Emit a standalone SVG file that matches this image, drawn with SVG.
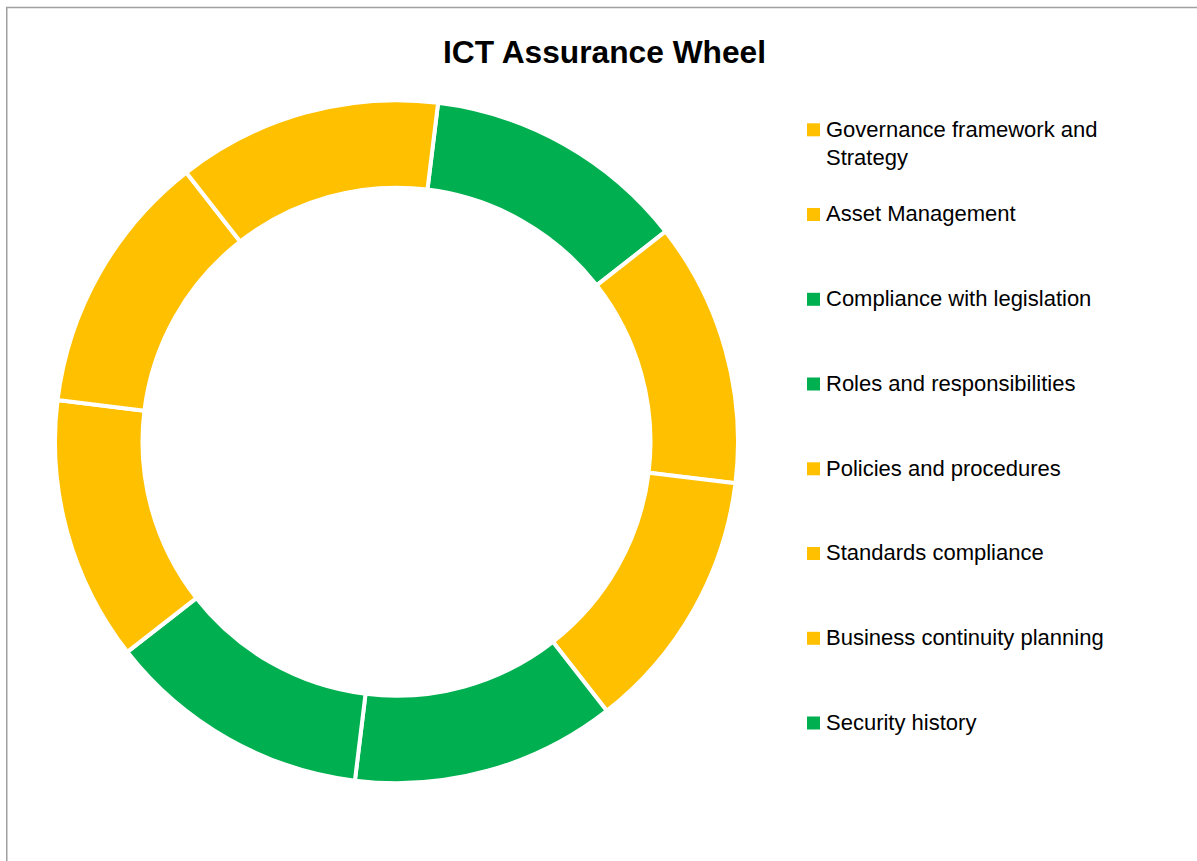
<svg xmlns="http://www.w3.org/2000/svg" width="1197" height="861" viewBox="0 0 1197 861">
<style>
.seg{stroke:#FFFFFF;stroke-width:4;stroke-linejoin:round}
.y{fill:#FFC000}
.g{fill:#00B050}
.lg{font-family:"Liberation Sans",Arial,sans-serif;font-size:22px;fill:#000000}
.title{font-family:"Liberation Sans",Arial,sans-serif;font-size:32px;font-weight:bold;fill:#000000}
</style>
<rect x="0" y="0" width="1197" height="861" fill="#FFFFFF"/>
<path d="M6.75,861 V7.5 H1197" fill="none" stroke="#A0A0A0" stroke-width="1.5"/>
<text class="title" x="604.5" y="63" text-anchor="middle" textLength="323" lengthAdjust="spacingAndGlyphs">ICT Assurance Wheel</text>
<g id="wheel">
<g id="seg-security"><path class="seg g" d="M438.12,102.74 A341.5,341.5 0 0 1 665.61,231.45 L596.65,285.32 A254,254 0 0 0 427.45,189.59 Z"/></g>
<g id="seg-governance"><path class="seg y" d="M665.61,231.45 A341.5,341.5 0 0 1 735.46,483.32 L648.61,472.65 A254,254 0 0 0 596.65,285.32 Z"/></g>
<g id="seg-asset"><path class="seg y" d="M735.46,483.32 A341.5,341.5 0 0 1 606.75,710.81 L552.88,641.85 A254,254 0 0 0 648.61,472.65 Z"/></g>
<g id="seg-compliance"><path class="seg g" d="M606.75,710.81 A341.5,341.5 0 0 1 354.88,780.66 L365.55,693.81 A254,254 0 0 0 552.88,641.85 Z"/></g>
<g id="seg-roles"><path class="seg g" d="M354.88,780.66 A341.5,341.5 0 0 1 127.39,651.95 L196.35,598.08 A254,254 0 0 0 365.55,693.81 Z"/></g>
<g id="seg-policies"><path class="seg y" d="M127.39,651.95 A341.5,341.5 0 0 1 57.54,400.08 L144.39,410.75 A254,254 0 0 0 196.35,598.08 Z"/></g>
<g id="seg-standards"><path class="seg y" d="M57.54,400.08 A341.5,341.5 0 0 1 186.25,172.59 L240.12,241.55 A254,254 0 0 0 144.39,410.75 Z"/></g>
<g id="seg-business"><path class="seg y" d="M186.25,172.59 A341.5,341.5 0 0 1 438.12,102.74 L427.45,189.59 A254,254 0 0 0 240.12,241.55 Z"/></g>
</g>
<g id="connectors"></g>
<g id="legend">
<g id="lg-governance"><rect class="y" x="807" y="123.3" width="13" height="13"/><text class="lg" x="826" y="136.5">Governance framework and</text><text class="lg" x="826" y="165">Strategy</text></g>
<g id="lg-asset"><rect class="y" x="807" y="208" width="13" height="13"/><text class="lg" x="826" y="221.25">Asset Management</text></g>
<g id="lg-compliance"><rect class="g" x="807" y="292.8" width="13" height="13"/><text class="lg" x="826" y="306">Compliance with legislation</text></g>
<g id="lg-roles"><rect class="g" x="807" y="377.5" width="13" height="13"/><text class="lg" x="826" y="390.75">Roles and responsibilities</text></g>
<g id="lg-policies"><rect class="y" x="807" y="462.3" width="13" height="13"/><text class="lg" x="826" y="475.5">Policies and procedures</text></g>
<g id="lg-standards"><rect class="y" x="807" y="547" width="13" height="13"/><text class="lg" x="826" y="560.25">Standards compliance</text></g>
<g id="lg-business"><rect class="y" x="807" y="631.8" width="13" height="13"/><text class="lg" x="826" y="645">Business continuity planning</text></g>
<g id="lg-security"><rect class="g" x="807" y="716.5" width="13" height="13"/><text class="lg" x="826" y="729.75">Security history</text></g>
</g>
</svg>
